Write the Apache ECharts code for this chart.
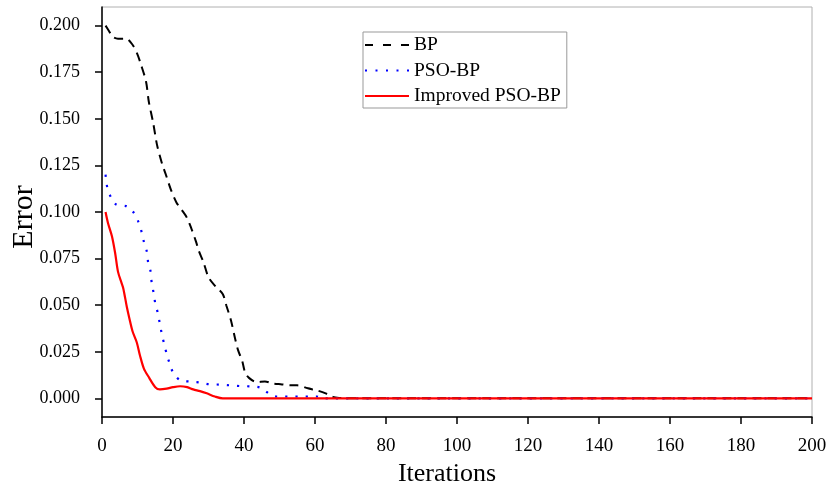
<!DOCTYPE html>
<html><head><meta charset="utf-8">
<script src="https://cdn.jsdelivr.net/npm/echarts@6/dist/echarts.min.js"></script>
<style>html,body{margin:0;padding:0;background:#fff}#c{width:830px;height:487px}</style>
</head><body><div id="c"></div>
<script>
const seriesNames = ['BP', 'PSO-BP', 'Improved PSO-BP'];
const yTicks = [0, 0.025, 0.05, 0.075, 0.1, 0.125, 0.15, 0.175, 0.2];
const xTicks = [0, 20, 40, 60, 80, 100, 120, 140, 160, 180, 200];

const bpX = [1, 2, 3, 4.5, 6.8, 8.5, 9.9, 11, 12.4, 13.2, 14.4, 15.5, 16.9, 18, 19.4, 21, 22.5, 23.9, 25.2, 26.5, 27.3, 28.6, 30, 32, 34, 35, 36.3, 37.5, 38.3, 39.5, 40.3, 41.4, 43.6, 45.9, 48, 50.7, 53, 55, 58, 60.5, 63, 65, 67, 69, 200];
const bpY = [0.200, 0.197, 0.194, 0.193, 0.193, 0.190, 0.185, 0.179, 0.170, 0.159, 0.148, 0.136, 0.126, 0.120, 0.112, 0.105, 0.101, 0.097, 0.091, 0.084, 0.079, 0.073, 0.065, 0.060, 0.056, 0.050, 0.042, 0.032, 0.026, 0.020, 0.014, 0.011, 0.0087, 0.0091, 0.008, 0.0075, 0.007, 0.007, 0.0054, 0.0043, 0.0027, 0.0008, 0.0002, 0, 0];

const psoX = [1, 1.5, 2.5, 4, 7, 8.8, 10.2, 11.2, 11.8, 12.6, 13, 13.7, 14, 14.6, 15, 15.7, 16.3, 16.8, 17.4, 18.2, 19, 20, 22, 24.8, 27.6, 30.4, 33, 36, 39, 42, 44.5, 46.4, 47.8, 49, 60.5, 62, 200];
const psoY = [0.120, 0.113, 0.108, 0.104, 0.103, 0.100, 0.095, 0.089, 0.084, 0.079, 0.073, 0.068, 0.062, 0.056, 0.051, 0.046, 0.040, 0.035, 0.030, 0.024, 0.019, 0.014, 0.0097, 0.0090, 0.0085, 0.0075, 0.0074, 0.007, 0.0066, 0.0064, 0.0058, 0.0034, 0.0015, 0.001, 0.001, 0, 0];

const impX = [1, 1.7, 2.8, 3.7, 4.5, 5.5, 6, 7, 7.7, 8.6, 9.8, 10.7, 11.8, 13.3, 15, 16.3, 18.2, 20, 22, 24, 25.7, 27.6, 29.5, 31.8, 34, 200];
const impY = [0.100, 0.094, 0.087, 0.078, 0.068, 0.062, 0.059, 0.049, 0.043, 0.036, 0.030, 0.023, 0.016, 0.011, 0.006, 0.0048, 0.0052, 0.006, 0.0065, 0.006, 0.0048, 0.0039, 0.0027, 0.001, 0, 0];

const zip = (xs, ys) => xs.map((x, i) => [x, ys[i]]);
const font = 'Liberation Serif';
const iconDash = 'path://M0 0H8V2H0ZM18 0H26V2H18ZM36 0H44V2H36Z';
const iconDot = 'path://M0 0H2V2H0ZM10.5 0H12.5V2H10.5ZM21 0H23V2H21ZM31.5 0H33.5V2H31.5ZM42 0H44V2H42Z';
const iconSolid = 'path://M0 0H44V2H0Z';
const chart = echarts.init(document.getElementById('c'));
chart.setOption({
  animation: false,
  grid: { left: 102, right: 18, top: 7, bottom: 70, show: true, borderColor: '#b0b0b0', borderWidth: 1,
          containLabel: false, outerBoundsMode: 'none' },
  legend: {
    orient: 'vertical', left: 363, top: 32,
    data: [
      { name: seriesNames[0], icon: iconDash },
      { name: seriesNames[1], icon: iconDot },
      { name: seriesNames[2], icon: iconSolid }
    ],
    itemWidth: 44, itemHeight: 2, itemGap: 5.5,
    backgroundColor: '#fff', borderColor: '#999', borderWidth: 1, padding: [3, 6, 2, 2],
    textStyle: { fontFamily: font, fontSize: 19.5, lineHeight: 20, color: '#000' }
  },
  xAxis: {
    type: 'value', min: 0, max: 200, interval: 20,
    name: 'Iterations', nameLocation: 'middle', nameGap: 44, nameMoveOverlap: false,
    nameTextStyle: { fontFamily: font, fontSize: 26, color: '#000', padding: [0, 20, 0, 0] },
    axisLine: { onZero: false, lineStyle: { color: '#000', width: 1.5 } },
    axisTick: { inside: false, length: 7, lineStyle: { color: '#000', width: 1.5 } },
    axisLabel: { fontFamily: font, fontSize: 19, color: '#000', margin: 20 },
    splitLine: { show: false }
  },
  yAxis: {
    type: 'value', min: -0.01, max: 0.21,
    name: 'Error', nameLocation: 'middle', nameGap: 63, nameMoveOverlap: false,
    nameTextStyle: { fontFamily: font, fontSize: 30, color: '#000', padding: [0, 10, 0, 0] },
    axisLine: { show: true, lineStyle: { color: '#000', width: 1.5 } },
    axisTick: { show: true, length: 7, customValues: yTicks, lineStyle: { color: '#000', width: 1.5 } },
    axisLabel: { fontFamily: font, fontSize: 18, color: '#000', margin: 22, customValues: yTicks, formatter: v => v.toFixed(3) },
    splitLine: { show: false }
  },
  series: [
    { name: seriesNames[0], type: 'line', data: zip(bpX, bpY), symbol: 'none', smooth: 0.3,
      lineStyle: { color: '#000', width: 2, type: [9, 6] }, itemStyle: { color: '#000' } },
    { name: seriesNames[1], type: 'line', data: zip(psoX, psoY), symbol: 'none', smooth: 0.3,
      lineStyle: { color: '#0000ff', width: 2.2, type: [2.2, 8] }, itemStyle: { color: '#0000ff' } },
    { name: seriesNames[2], type: 'line', data: zip(impX, impY), symbol: 'none', smooth: 0.3,
      lineStyle: { color: '#ff0000', width: 2.2 }, itemStyle: { color: '#ff0000' } }
  ]
});
</script></body></html>
